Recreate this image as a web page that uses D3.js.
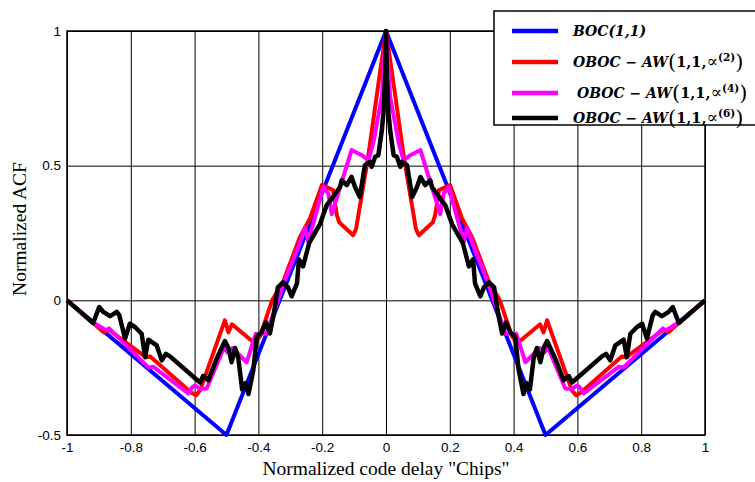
<!DOCTYPE html>
<html><head><meta charset="utf-8">
<script src="https://d3js.org/d3.v7.min.js"></script>
<style>body{margin:0;background:#fff}svg{display:block}</style>
</head><body>
<svg id="c" width="755" height="482"></svg>
<script>
// ---- data ----
const xTickValues = [-1,-0.8,-0.6,-0.4,-0.2,0,0.2,0.4,0.6,0.8,1];
const xTickLabels = ["-1","-0.8","-0.6","-0.4","-0.2","0","0.2","0.4","0.6","0.8","1"];
const yTickValues = [-0.5,0,0.5,1];
const yTickLabels = ["-0.5","0","0.5","1"];

const bocDelay = [-1,-0.5,0,0.5,1];
const bocValue = [0,-0.5,1,-0.5,0];

const redDelayLeft = [-1,-0.884,-0.871,-0.752,-0.740,-0.611,-0.596,-0.583,-0.505,-0.494,-0.483,-0.411,-0.395,-0.357,-0.323,-0.270,-0.238,-0.201,-0.166,-0.154,-0.147,-0.103,-0.094,-0.056,-0.019,0];
const redValueLeft = [0,-0.119,-0.108,-0.212,-0.208,-0.342,-0.353,-0.335,-0.074,-0.119,-0.089,-0.160,-0.134,0,0.067,0.234,0.305,0.428,0.409,0.316,0.290,0.242,0.264,0.532,0.844,1];
const redDelayRight = [0.019,0.056,0.094,0.103,0.147,0.154,0.166,0.201,0.238,0.270,0.323,0.357,0.395,0.411,0.483,0.494,0.505,0.583,0.596,0.611,0.740,0.752,0.871,0.884,1];
const redValueRight = [0.844,0.532,0.264,0.242,0.290,0.316,0.409,0.428,0.305,0.234,0.067,0,-0.134,-0.160,-0.089,-0.119,-0.074,-0.335,-0.353,-0.342,-0.208,-0.212,-0.108,-0.119,0];

const magDelayLeft = [-1,-0.918,-0.876,-0.868,-0.745,-0.729,-0.620,-0.608,-0.599,-0.583,-0.562,-0.508,-0.497,-0.481,-0.437,-0.420,-0.408,-0.374,-0.364,-0.317,-0.279,-0.263,-0.254,-0.244,-0.212,-0.197,-0.181,-0.170,-0.108,-0.076,-0.055,-0.040,-0.013,0];
const magValueLeft = [0,-0.082,-0.112,-0.104,-0.249,-0.247,-0.346,-0.323,-0.316,-0.329,-0.327,-0.175,-0.193,-0.177,-0.230,-0.167,-0.124,-0.124,-0.087,0.074,0.186,0.235,0.270,0.217,0.353,0.421,0.397,0.320,0.558,0.539,0.520,0.583,0.756,1];
const magDelayRight = [0.013,0.040,0.055,0.076,0.108,0.170,0.181,0.197,0.212,0.244,0.254,0.263,0.279,0.317,0.364,0.374,0.408,0.420,0.437,0.481,0.497,0.508,0.562,0.583,0.599,0.608,0.620,0.729,0.745,0.868,0.876,0.918,1];
const magValueRight = [0.756,0.583,0.520,0.539,0.558,0.320,0.397,0.421,0.353,0.217,0.270,0.235,0.186,0.074,-0.087,-0.124,-0.124,-0.167,-0.230,-0.177,-0.193,-0.175,-0.327,-0.329,-0.316,-0.323,-0.346,-0.247,-0.249,-0.104,-0.112,-0.082,0];

const blkDelayLeft = [-1,-0.918,-0.899,-0.886,-0.865,-0.844,-0.836,-0.818,-0.803,-0.787,-0.766,-0.755,-0.745,-0.719,-0.703,-0.690,-0.677,-0.593,-0.583,-0.573,-0.557,-0.531,-0.505,-0.494,-0.484,-0.473,-0.463,-0.451,-0.440,-0.431,-0.416,-0.405,-0.390,-0.376,-0.364,-0.351,-0.339,-0.323,-0.307,-0.296,-0.279,-0.273,-0.260,-0.241,-0.207,-0.186,-0.170,-0.144,-0.139,-0.123,-0.108,-0.097,-0.082,-0.066,-0.050,-0.045,-0.034,-0.024,-0.013,-0.008,-0.003,0];
const blkValueLeft = [0,-0.084,-0.025,-0.043,-0.059,-0.043,-0.056,-0.142,-0.087,-0.099,-0.124,-0.211,-0.146,-0.167,-0.223,-0.199,-0.208,-0.295,-0.305,-0.281,-0.297,-0.217,-0.151,-0.177,-0.230,-0.177,-0.214,-0.331,-0.307,-0.348,-0.260,-0.134,-0.119,-0.082,-0.123,-0.045,0.048,0.067,0.048,0.015,0.063,0.152,0.126,0.212,0.283,0.353,0.378,0.421,0.446,0.428,0.458,0.421,0.384,0.502,0.514,0.496,0.533,0.539,0.632,0.695,0.818,1];
const blkDelayRight = [0.003,0.008,0.013,0.024,0.034,0.045,0.050,0.066,0.082,0.097,0.108,0.123,0.139,0.144,0.170,0.186,0.207,0.241,0.260,0.273,0.279,0.296,0.307,0.323,0.339,0.351,0.364,0.376,0.390,0.405,0.416,0.431,0.440,0.451,0.463,0.473,0.484,0.494,0.505,0.531,0.557,0.573,0.583,0.593,0.677,0.690,0.703,0.719,0.745,0.755,0.766,0.787,0.803,0.818,0.836,0.844,0.865,0.886,0.899,0.918,1];
const blkValueRight = [0.818,0.695,0.632,0.539,0.533,0.496,0.514,0.502,0.384,0.421,0.458,0.428,0.446,0.421,0.378,0.353,0.283,0.212,0.126,0.152,0.063,0.015,0.048,0.067,0.048,-0.045,-0.123,-0.082,-0.119,-0.134,-0.260,-0.348,-0.307,-0.331,-0.214,-0.177,-0.230,-0.177,-0.151,-0.217,-0.297,-0.281,-0.305,-0.295,-0.208,-0.199,-0.223,-0.167,-0.146,-0.211,-0.124,-0.099,-0.087,-0.142,-0.056,-0.043,-0.059,-0.043,-0.025,-0.084,0];

const seriesColors = ["#0000ff", "#ff0000", "#ff00ff", "#000000"];
const legendSups = ["(2)", "(4)", "(6)"];

// ---- build ----
const series = [
  {delay: bocDelay, value: bocValue, color: seriesColors[0], w: 4},
  {delay: redDelayLeft.concat(redDelayRight), value: redValueLeft.concat(redValueRight), color: seriesColors[1], w: 4},
  {delay: magDelayLeft.concat(magDelayRight), value: magValueLeft.concat(magValueRight), color: seriesColors[2], w: 4},
  {delay: blkDelayLeft.concat(blkDelayRight), value: blkValueLeft.concat(blkValueRight), color: seriesColors[3], w: 4.5}
];

const L = 67, R = 705, T = 31, B = 435;
const svg = d3.select("#c");
const x = d3.scaleLinear().domain([-1, 1]).range([L, R]);
const y = d3.scaleLinear().domain([-0.5, 1]).range([B, T]);

const tickFont = "'Liberation Sans', Arial, sans-serif";
const gx = svg.append("g").attr("transform", `translate(0,${B})`)
  .call(d3.axisBottom(x).tickValues(xTickValues).tickFormat((d,i)=>xTickLabels[i]).tickSize(-(B-T)).tickPadding(7));
gx.select(".domain").remove();
gx.selectAll(".tick line").attr("stroke", "#000").attr("stroke-width", 1);
gx.selectAll(".tick text").attr("font-family", tickFont).attr("font-size", 13.5).attr("fill","#000");

const gy = svg.append("g").attr("transform", `translate(${L},0)`)
  .call(d3.axisLeft(y).tickValues(yTickValues).tickFormat((d,i)=>yTickLabels[i]).tickSize(-(R-L)).tickPadding(6));
gy.select(".domain").remove();
gy.selectAll(".tick line").attr("stroke", "#000").attr("stroke-width", 1);
gy.selectAll(".tick text").attr("font-family", tickFont).attr("font-size", 13.5).attr("fill","#000");

svg.append("rect").attr("x", L).attr("y", T).attr("width", R-L).attr("height", B-T)
  .attr("fill", "none").attr("stroke", "#000").attr("stroke-width", 1.5);

const line = d3.line().x(d => x(d[0])).y(d => y(d[1]));
series.forEach(s => {
  const pts = s.delay.map((d,i) => [d, s.value[i]]);
  svg.append("path").attr("d", line(pts)).attr("fill", "none")
    .attr("stroke", s.color).attr("stroke-width", s.w).attr("stroke-linejoin", "round");
});

const labelFont = "'Liberation Serif', 'Times New Roman', serif";
svg.append("text").attr("x", 386).attr("y", 475).attr("text-anchor", "middle")
  .attr("font-family", labelFont).attr("font-size", 19.5)
  .text('Normalized code delay "Chips"');
svg.append("text").attr("transform", "translate(26,229) rotate(-90)").attr("text-anchor", "middle")
  .attr("font-family", labelFont).attr("font-size", 19.5)
  .text("Normalized ACF");

// legend
const lg = svg.append("g");
lg.append("rect").attr("x", 494).attr("y", 11).attr("width", 300).attr("height", 114)
  .attr("fill", "#fff").attr("stroke", "#000").attr("stroke-width", 1.5);
const rowsY = [31, 62, 93, 118];
seriesColors.forEach((c, i) => {
  lg.append("line").attr("x1", 512).attr("x2", 558).attr("y1", rowsY[i]).attr("y2", rowsY[i])
    .attr("stroke", c).attr("stroke-width", 4.5);
  const t = lg.append("text").attr("x", i === 2 ? 577 : 573).attr("y", rowsY[i] + 5)
    .attr("font-family", "'DejaVu Serif', serif").attr("font-size", 14).attr("fill", "#000");
  if (i === 0) {
    t.append("tspan").attr("font-style", "italic").attr("font-weight", "bold").text("BOC(1,1)");
  } else {
    t.append("tspan").attr("font-style", "italic").attr("font-weight", "bold").text("OBOC − AW");
    t.append("tspan").attr("font-size", 21).attr("dy", 1.5).text("(");
    t.append("tspan").attr("dy", -1.5).attr("font-weight", "bold").attr("font-size", 14.5).text("1,1,");
    t.append("tspan").attr("font-size", 17).text("∝");
    t.append("tspan").attr("font-size", 10.5).attr("dy", -6).attr("font-weight", "bold").text(legendSups[i-1]);
    t.append("tspan").attr("font-size", 21).attr("dy", 7.5).text(")");
  }
});
</script>
</body></html>
